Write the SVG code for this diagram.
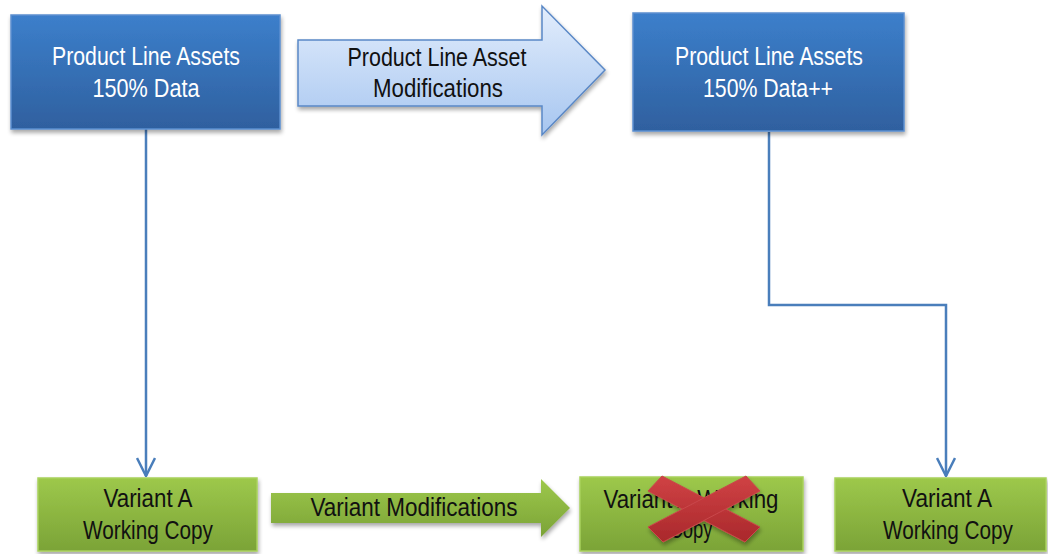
<svg xmlns="http://www.w3.org/2000/svg" width="1048" height="554" viewBox="0 0 1048 554">
<defs>
<linearGradient id="gBlue" x1="0" y1="0" x2="0" y2="1">
<stop offset="0" stop-color="#3c7fcb"/><stop offset="1" stop-color="#2f609f"/>
</linearGradient>
<linearGradient id="gLight" x1="0" y1="0" x2="0" y2="1">
<stop offset="0" stop-color="#e2edfc"/><stop offset="1" stop-color="#a7c6f0"/>
</linearGradient>
<linearGradient id="gGreen" x1="0" y1="0" x2="0" y2="1">
<stop offset="0" stop-color="#9dc84b"/><stop offset="1" stop-color="#7ba337"/>
</linearGradient>
<linearGradient id="gRed" x1="0" y1="0" x2="0" y2="1">
<stop offset="0" stop-color="#d04245"/><stop offset="1" stop-color="#a9282b"/>
</linearGradient>
<filter id="sh" x="-10%" y="-10%" width="125%" height="130%">
<feGaussianBlur in="SourceAlpha" stdDeviation="2"/>
<feOffset dx="1" dy="3" result="b"/>
<feComponentTransfer><feFuncA type="linear" slope="0.35"/></feComponentTransfer>
<feMerge><feMergeNode/><feMergeNode in="SourceGraphic"/></feMerge>
</filter>
<marker id="open" viewBox="0 0 20 20" refX="19" refY="10" markerWidth="20" markerHeight="20" markerUnits="userSpaceOnUse" orient="auto">
<path d="M1,1 L19,10 L1,19" fill="none" stroke="#4a7ebb" stroke-width="2.5"/>
</marker>
</defs>
<style>
.blue{fill:url(#gBlue);stroke:#5c8fd0;stroke-width:1.5;filter:url(#sh)}
.green{fill:url(#gGreen);stroke:#a8d15c;stroke-width:1.5;filter:url(#sh)}
.tw{font-family:"Liberation Sans",Arial,sans-serif;font-size:25px;fill:#ffffff;text-anchor:middle}
.tb{font-family:"Liberation Sans",Arial,sans-serif;font-size:25px;fill:#111111;text-anchor:middle}
.conn{fill:none;stroke:#4a7ebb;stroke-width:2.5}
.xs{fill:url(#gRed);stroke:#c9484b;stroke-width:1}
</style>
<g id="connectors">
<path class="conn" d="M146,129 V476" marker-end="url(#open)"/>
<path class="conn" d="M769,132 V305 H946 V476" marker-end="url(#open)"/>
</g>
<g id="box-pla">
<rect class="blue" x="11" y="15" width="269" height="114"/>
<text class="tw" x="146" y="65" textLength="188" lengthAdjust="spacingAndGlyphs">Product Line Assets</text>
<text class="tw" x="146" y="97" textLength="107" lengthAdjust="spacingAndGlyphs">150% Data</text>
</g>
<g id="arrow-plam">
<path d="M298,40 H542 V6 L605,70 L542,135 V106 H298 Z" fill="url(#gLight)" stroke="#5a88c6" stroke-width="1.5" filter="url(#sh)"/>
<text class="tb" x="437" y="66" textLength="179" lengthAdjust="spacingAndGlyphs">Product Line Asset</text>
<text class="tb" x="438" y="97" textLength="130" lengthAdjust="spacingAndGlyphs">Modifications</text>
</g>
<g id="box-pla2">
<rect class="blue" x="633" y="13" width="271" height="118"/>
<text class="tw" x="769" y="65" textLength="188" lengthAdjust="spacingAndGlyphs">Product Line Assets</text>
<text class="tw" x="768" y="97" textLength="130" lengthAdjust="spacingAndGlyphs">150% Data++</text>
</g>
<g id="box-va1">
<rect class="green" x="38" y="478" width="219" height="73"/>
<text class="tb" x="148" y="507" textLength="89" lengthAdjust="spacingAndGlyphs">Variant A</text>
<text class="tb" x="148" y="539" textLength="130" lengthAdjust="spacingAndGlyphs">Working Copy</text>
</g>
<g id="arrow-vm">
<path d="M271,493 H541 V479 L570,508 L541,537 V523 H271 Z" fill="url(#gGreen)" filter="url(#sh)"/>
<text class="tb" x="414" y="516" textLength="207" lengthAdjust="spacingAndGlyphs">Variant Modifications</text>
</g>
<g id="box-vaw">
<rect class="green" x="580" y="477" width="223" height="74"/>
<text class="tb" x="691" y="508" textLength="175" lengthAdjust="spacingAndGlyphs">Variant A Working</text>
<text class="tb" x="691" y="538" textLength="43" lengthAdjust="spacingAndGlyphs">Copy</text>
<g filter="url(#sh)">
<path class="xs" d="M662,476 L648,491 L745,542 L760,527 Z"/>
<path class="xs" d="M746,476 L760,491 L663,542 L648,527 Z"/>
</g>
</g>
<g id="box-va2">
<rect class="green" x="835" y="478" width="211" height="73"/>
<text class="tb" x="947" y="507" textLength="90" lengthAdjust="spacingAndGlyphs">Variant A</text>
<text class="tb" x="948" y="539" textLength="130" lengthAdjust="spacingAndGlyphs">Working Copy</text>
</g>
</svg>
